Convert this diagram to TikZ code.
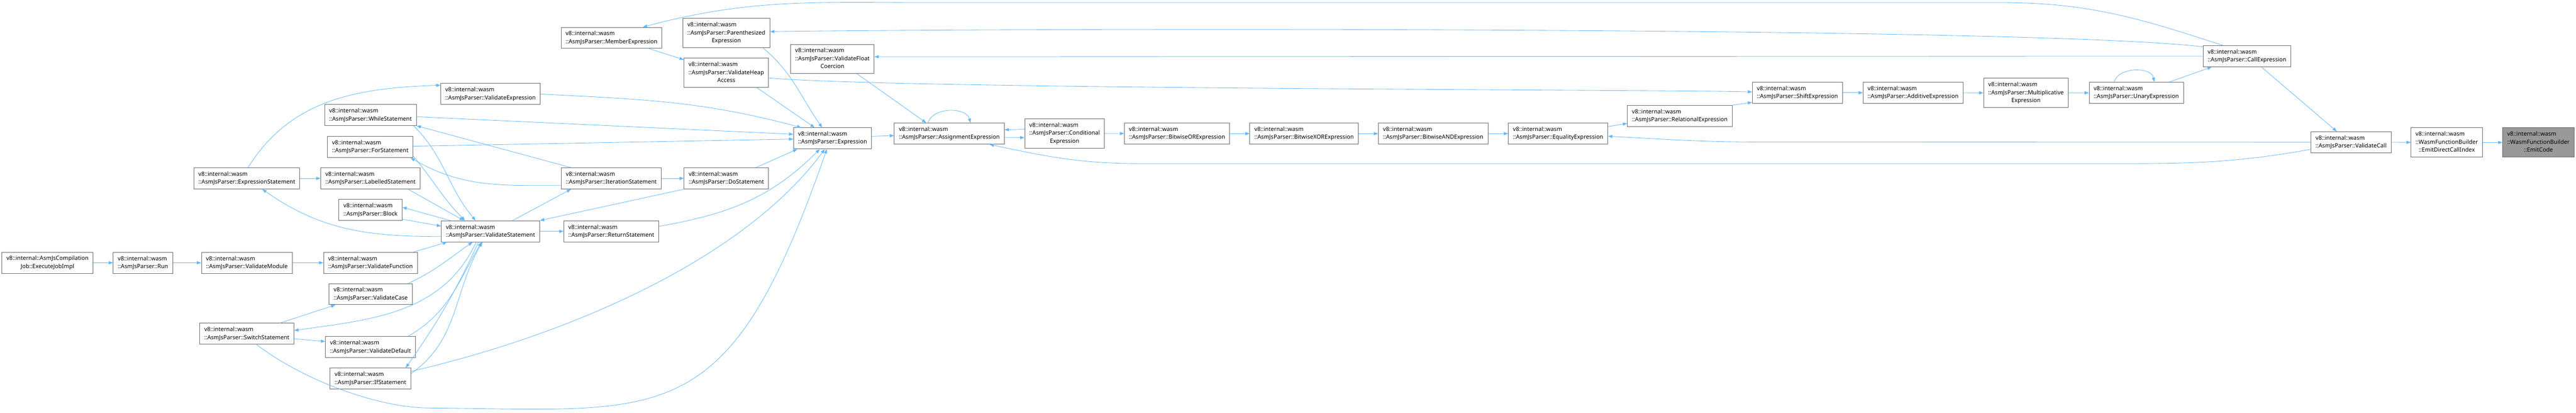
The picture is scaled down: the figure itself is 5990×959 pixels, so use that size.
\documentclass[tikz,border=0pt]{standalone}
\usepackage{fontspec}
\setmainfont{Noto Sans}
\usetikzlibrary{arrows.meta}
\definecolor{edgeblue}{HTML}{63B8FF}
\definecolor{boxgray}{HTML}{666666}
\definecolor{rootgray}{HTML}{999999}
\newcommand{\threeline}[3]{\begin{tabular}{@{}l@{}}#1\\#2\\\multicolumn{1}{@{}c@{}}{#3}\end{tabular}}
\tikzset{
  func/.style={draw=boxgray, fill=white, line width=0.9pt, inner xsep=8pt, inner ysep=4.6pt,
    minimum height=36.75pt, align=left, font=\fontsize{10}{13.9}\selectfont},
  root/.style={func, fill=rootgray},
  calls/.style={draw=edgeblue, line width=0.75pt, -{Triangle[length=7.5pt,width=5.5pt]}}
}
\begin{document}
\begin{tikzpicture}[x=0.75pt,y=-0.75pt]
\useasboundingbox (0,0) rectangle (5990,959);

	\node (ejob)[func,align=center] at (110.5,610.5) {v8::internal::AsmJsCompilation\\Job::ExecuteJobImpl};
	\node (run)[func] at (332.5,610.5) {v8::internal::wasm\\::AsmJsParser::Run};
	\node (vmod)[func] at (574,610.5) {v8::internal::wasm\\::AsmJsParser::ValidateModule};
	\node (vfun)[func] at (861.5,610.5) {v8::internal::wasm\\::AsmJsParser::ValidateFunction};
	\node (exst)[func] at (574,414.5) {v8::internal::wasm\\::AsmJsParser::ExpressionStatement};
	\node (labst)[func] at (861.5,414.5) {v8::internal::wasm\\::AsmJsParser::LabelledStatement};
	\node (whst)[func] at (861.5,267.5) {v8::internal::wasm\\::AsmJsParser::WhileStatement};
	\node (forst)[func] at (861,341.5) {v8::internal::wasm\\::AsmJsParser::ForStatement};
	\node (blk)[func] at (861.5,488) {v8::internal::wasm\\::AsmJsParser::Block};
	\node (vcase)[func] at (862,683.5) {v8::internal::wasm\\::AsmJsParser::ValidateCase};
	\node (swst)[func] at (574,775.5) {v8::internal::wasm\\::AsmJsParser::SwitchStatement};
	\node (vdef)[func] at (861.5,806.5) {v8::internal::wasm\\::AsmJsParser::ValidateDefault};
	\node (ifst)[func] at (861.5,879.5) {v8::internal::wasm\\::AsmJsParser::IfStatement};

	\node (memb)[func] at (1422,88) {v8::internal::wasm\\::AsmJsParser::MemberExpression};
	\node (paren)[func] at (1689,77) {\threeline{v8::internal::wasm}{::AsmJsParser::Parenthesized}{Expression}};
	\node (vfloat)[func] at (1935.5,137) {\threeline{v8::internal::wasm}{::AsmJsParser::ValidateFloat}{Coercion}};
	\node (vheap)[func] at (1689,169) {\threeline{v8::internal::wasm}{::AsmJsParser::ValidateHeap}{Access}};
	\node (vexpr)[func] at (1140.5,218.5) {v8::internal::wasm\\::AsmJsParser::ValidateExpression};
	\node (expr)[func] at (1936,321.5) {v8::internal::wasm\\::AsmJsParser::Expression};
	\node (iter)[func] at (1421.5,414.5) {v8::internal::wasm\\::AsmJsParser::IterationStatement};
	\node (dost)[func] at (1689,414.5) {v8::internal::wasm\\::AsmJsParser::DoStatement};
	\node (vstmt)[func] at (1140.5,537.5) {v8::internal::wasm\\::AsmJsParser::ValidateStatement};
	\node (retst)[func] at (1421.5,537.5) {v8::internal::wasm\\::AsmJsParser::ReturnStatement};

	\node (assign)[func] at (2207.5,310.5) {v8::internal::wasm\\::AsmJsParser::AssignmentExpression};
	\node (cond)[func] at (2475.5,310) {\threeline{v8::internal::wasm}{::AsmJsParser::Conditional}{Expression}};
	\node (bor)[func] at (2737,310.5) {v8::internal::wasm\\::AsmJsParser::BitwiseORExpression};
	\node (bxor)[func] at (3032.5,310.5) {v8::internal::wasm\\::AsmJsParser::BitwiseXORExpression};
	\node (band)[func] at (3332.5,310.5) {v8::internal::wasm\\::AsmJsParser::BitwiseANDExpression};
	\node (eq)[func] at (3623,310.5) {v8::internal::wasm\\::AsmJsParser::EqualityExpression};
	\node (rel)[func] at (3906,269.5) {v8::internal::wasm\\::AsmJsParser::RelationalExpression};
	\node (shift)[func] at (4179.5,215.5) {v8::internal::wasm\\::AsmJsParser::ShiftExpression};
	\node (add)[func] at (4448.5,215.5) {v8::internal::wasm\\::AsmJsParser::AdditiveExpression};
	\node (mult)[func] at (4711,216) {\threeline{v8::internal::wasm}{::AsmJsParser::Multiplicative}{Expression}};
	\node (unary)[func] at (4967.5,215.5) {v8::internal::wasm\\::AsmJsParser::UnaryExpression};
	\node (callx)[func] at (5225,130.5) {v8::internal::wasm\\::AsmJsParser::CallExpression};
	\node (vcall)[func] at (5467,330.5) {v8::internal::wasm\\::AsmJsParser::ValidateCall};
	\node (edci)[func] at (5689.5,331) {\threeline{v8::internal::wasm}{::WasmFunctionBuilder}{::EmitDirectCallIndex}};
	\node (emit)[root] at (5902.5,331) {\threeline{v8::internal::wasm}{::WasmFunctionBuilder}{::EmitCode}};

	% left part: module, function and statements
	\draw [calls] (ejob) to (run);
	\draw [calls] (run) to (vmod);
	\draw [calls] (vmod) to (vfun);
	\draw [calls] (vfun.14) to (vstmt.194);
	\draw [calls] (exst.84) to[out=58,in=182] (vexpr.170);
	\draw [calls] (exst) to (labst);
	\draw [calls] (vstmt.186) to[out=180,in=-35] (exst.-35);
	\draw [calls] (vstmt.165) to (blk.5);
	\draw [calls] (blk.-16) to (vstmt.174);
	\draw [calls] (labst.-16) to (vstmt.158);
	\draw [calls] (whst.-14) to[out=-45,in=130] (vstmt.144);
	\draw [calls] (iter.165) to (whst.-13);
	\draw [calls] (whst.-2) to (expr.174);
	\draw [calls] (forst.1) to (expr.181);
	\draw [calls] (iter.188) to[out=180,in=-30] (forst.-15);
	\draw [calls] (forst.-12) to[out=-50,in=135] (vstmt.157);
	\draw [calls] (iter) to (dost);
	\draw [calls] (vstmt.26) to (iter.195);
	\draw [calls] (dost.south west) to (vstmt.north east);
	\draw [calls] (vstmt) to (retst);
	\draw [calls] (vstmt.217) to[out=-115,in=8] (swst.4);
	\draw [calls] (vstmt.222) to[out=-115,in=55] (ifst.17);
	\draw [calls] (ifst.7) to[out=35,in=-120] (vstmt.233);
	\draw [calls] (vcase.16) to[out=25,in=-145] (vstmt.211);
	\draw [calls] (vdef.16) to[out=30,in=-120] (vstmt.230);
	\draw [calls] (swst.18) to (vcase.197);
	\draw [calls] (swst.-6) to (vdef.173);
	\draw [calls] (swst.-48) .. controls (706,884) and (880,948) .. (1000,948) .. controls (1550,952) and (1693,1007) .. (expr.242);
	\draw [calls] (ifst.10) .. controls (1347,772) and (1736,593) .. (expr.234);
	\draw [calls] (retst.6) to[out=10,in=-135] (expr.220);
	\draw [calls] (dost.20) to (expr.197);
	\draw [calls] (vexpr.east) to[out=-3,in=165] (expr.161);
	\draw [calls] (vheap.-26) to (expr.149);
	\draw [calls] (paren.-22) to[out=-40,in=125] (expr.134);
	\draw [calls] (memb.-16) to (vheap.163);
	\draw [calls] (vheap.-7) .. controls (2100,208) and (3900,208) .. (shift.179);

	% expression chain
	\draw [calls] (callx.156) to[out=162,in=0] (4650,6) -- (2150,6) to[out=180,in=15] (memb.19);
	\draw [calls] (callx.168) .. controls (4700,60) and (2300,66) .. (paren.2);
	\draw [calls] (callx.west) to (vfloat.3);
	\draw [calls] (vfloat.-31) to (assign.155);
	\draw [calls] (expr.3) to (assign.182);
	\draw [calls] (assign.153) to[out=75,in=105] (assign.27);
	\draw [calls] (assign.-4) to (cond.186);
	\draw [calls] (cond.174) to (assign.4);
	\draw [calls] (cond) to (bor);
	\draw [calls] (bor) to (bxor);
	\draw [calls] (bxor) to (band);
	\draw [calls] (band) to (eq);
	\draw [calls] (eq.8) to (rel.188);
	\draw [calls] (rel.north east) to (shift.192);
	\draw [calls] (shift) to (add);
	\draw [calls] (add) to (mult);
	\draw [calls] (mult) to (unary);
	\draw [calls] (unary.154) to[out=75,in=100] (unary.31);
	\draw [calls] (unary.18) to (callx.197);
	\draw [calls] (callx.-37) to (vcall.143);
	\draw [calls] (vcall.west) -- (4100,330) to[out=180,in=-3] (eq.-3);
	\draw [calls] (vcall.190) to[out=190,in=0] (4950,380) -- (2650,380) to[out=180,in=-12] (assign.-15);
	\draw [calls] (vcall) to (edci);
	\draw [calls] (edci) to (emit);

\end{tikzpicture}
\end{document}
